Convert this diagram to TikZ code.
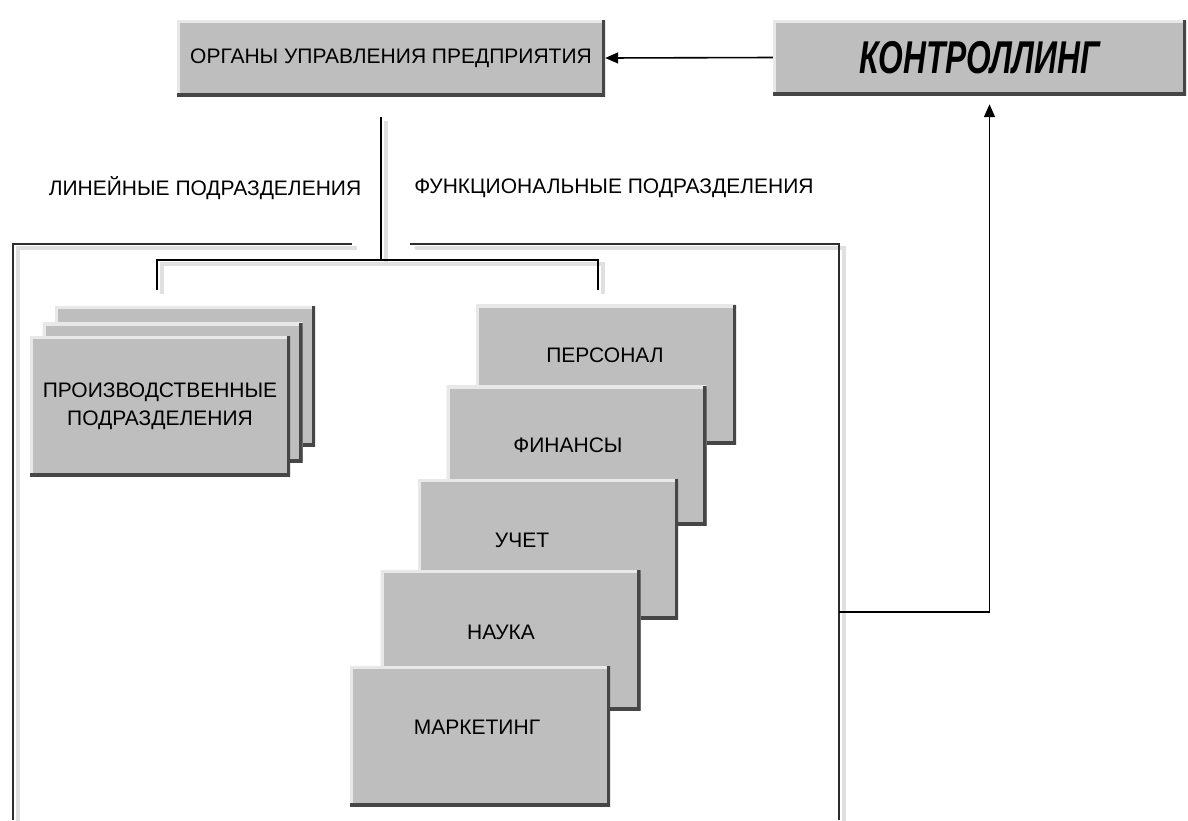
\documentclass[tikz,border=0pt]{standalone}
\usepackage{fontspec}
\setmainfont{Liberation Sans}
\newfontfamily\ctrlfont[FakeStretch=0.69]{Liberation Sans}
\usetikzlibrary{arrows,arrows.meta,positioning,calc}

\definecolor{boxgray}{RGB}{190,190,190}
\definecolor{boxdark}{RGB}{70,70,70}
\definecolor{boxlight}{RGB}{232,232,232}
\definecolor{linegray}{RGB}{45,45,45}

\tikzset{
  unit/.style={fill=boxgray, inner sep=0pt, minimum width=260, minimum height=140,
    path picture={
      \draw[boxlight, line width=6] (path picture bounding box.south west) |- (path picture bounding box.north east);
      \draw[boxdark, line width=7] (path picture bounding box.south west) -| (path picture bounding box.north east);
    }},
  txt/.style={font=\fontsize{21}{28}\selectfont, inner sep=0pt, align=center},
  frame/.style={draw=linegray, line width=2},
  trace/.style={draw=black!12, line width=4},
  link/.style={draw=black, line width=1.6, -{Triangle[length=13pt,width=11pt]}}
}

\begin{document}
\begin{tikzpicture}[x=1pt, y=-1pt]
  \useasboundingbox (0,0) rectangle (1188,820);
  \fill[white] (0,0) rectangle (1188,820);

  % top level
  \node[unit, txt, minimum width=428, minimum height=76] (organs) at (391,58) {ОРГАНЫ УПРАВЛЕНИЯ ПРЕДПРИЯТИЯ};
  \node[unit, minimum width=413, minimum height=75,
        font=\ctrlfont\bfseries\itshape\fontsize{46}{50}\selectfont] (ctrl) at (979.5,57.5) {КОНТРОЛЛИНГ};
  \draw[link] (ctrl.west) -- (organs.east);

  \node[txt] (linL) at (205,188) {ЛИНЕЙНЫЕ ПОДРАЗДЕЛЕНИЯ};
  \node[txt] (funL) at (614,188) {ФУНКЦИОНАЛЬНЫЕ ПОДРАЗДЕЛЕНИЯ};

  \coordinate (stem) at (381,117);
  \coordinate (hub) at (381,260);
  \coordinate (linEnd) at (157,290);
  \coordinate (funEnd) at (598,290);
  \coordinate (gapL) at (352,244);
  \coordinate (gapR) at (410,244);
  \coordinate (fb) at (839,612);

  % shadows of the lines
  \begin{scope}[transform canvas={shift={(5,4)}}]
    \draw[trace] (stem) -- (hub) (linEnd) |- (hub) -| (funEnd);
    \draw[trace] (gapL) -| (13,820) (gapR) -| (839,820);
  \end{scope}

  \draw[frame] (gapL) -| (13,820);
  \draw[frame] (gapR) -| (839,820);
  \draw[frame, draw=black, line width=1.6] (stem) -- (hub);
  \draw[frame, draw=black, line width=1.6] (linEnd) |- (hub) -| (funEnd);
  \draw[link, shorten >=9] (fb) -| ([xshift=10]ctrl.south);

  % linear units
  \node[unit] (prodC) at (185,376) {};
  \node[unit] (prodB) at (172.5,392.5) {};
  \node[unit, txt] (prodA) at (160,406) {ПРОИЗВОДСТВЕННЫЕ\\ПОДРАЗДЕЛЕНИЯ};

  % functional units
  \foreach \nm/\cx/\cy/\tx/\ty/\lab in {pers/606/374.5/605/355/ПЕРСОНАЛ,
      fin/576.5/455.5/568/445/ФИНАНСЫ, uch/548/549/522/540/УЧЕТ,
      sci/510.5/640/501/632/НАУКА, mark/480/736/477/727/МАРКЕТИНГ} {
    \node[unit] (\nm) at (\cx,\cy) {};
    \node[txt] (\nm T) at (\tx,\ty) {\lab};
  }
\end{tikzpicture}
\end{document}
